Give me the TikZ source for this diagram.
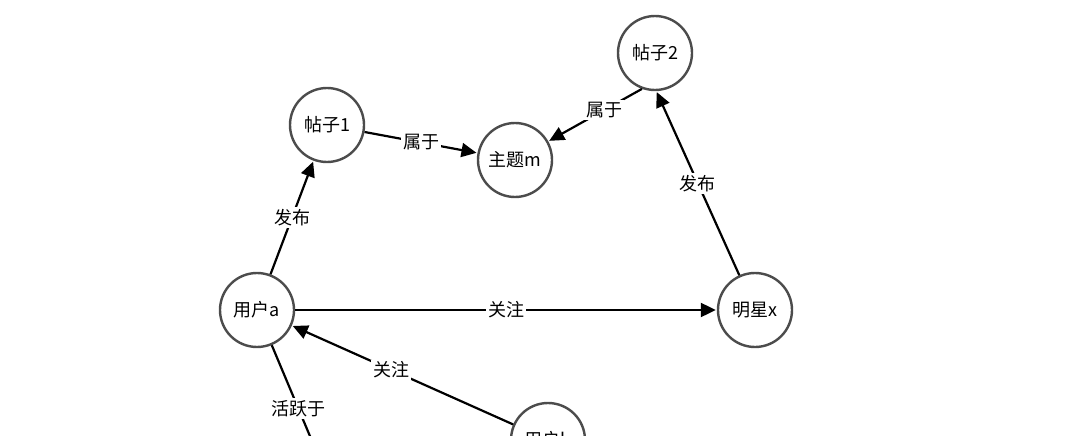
\documentclass[tikz,border=0pt]{standalone}
\usepackage{fontspec}
\setmainfont{Noto Sans CJK SC}
\usetikzlibrary{arrows.meta}
\begin{document}
\begin{tikzpicture}[x=1pt,y=-1pt,
  ent/.style={circle,draw=black!70,line width=2.4pt,minimum size=74pt,inner sep=0pt,font=\fontsize{18}{20}\selectfont},
  rel/.style={-{Triangle[length=15pt,width=14pt]},line width=2.2pt,shorten >=1pt},
  lab/.style={fill=white,inner sep=2pt,font=\fontsize{18}{20}\selectfont}]
\useasboundingbox (0,0) rectangle (1080,436);
\clip (0,0) rectangle (1080,436);
\node[ent] (p1) at (327,125) {帖子1};
\node[ent] (m) at (515,160) {主题m};
\node[ent] (p2) at (655,53) {帖子2};
\node[ent] (a) at (257,310) {用户a};
\node[ent] (x) at (755,310) {明星x};
\node[ent] (b) at (548,440) {用户b};
\coordinate (c) at (320,460);
\draw[rel] (a) -- node[lab]{发布} (p1);
\draw[rel] (p1) -- node[lab]{属于} (m);
\draw[rel] (p2.250) -- node[lab,pos=0.4]{属于} (m);
\draw[rel] (x) -- node[lab]{发布} (p2.272);
\draw[rel] (a) -- node[lab]{关注} (x);
\draw[rel] (b) -- node[lab,pos=0.55]{关注} (a);
\draw[line width=2.2pt] (a) -- node[lab,pos=0.55]{活跃于} (c);
\end{tikzpicture}
\end{document}
